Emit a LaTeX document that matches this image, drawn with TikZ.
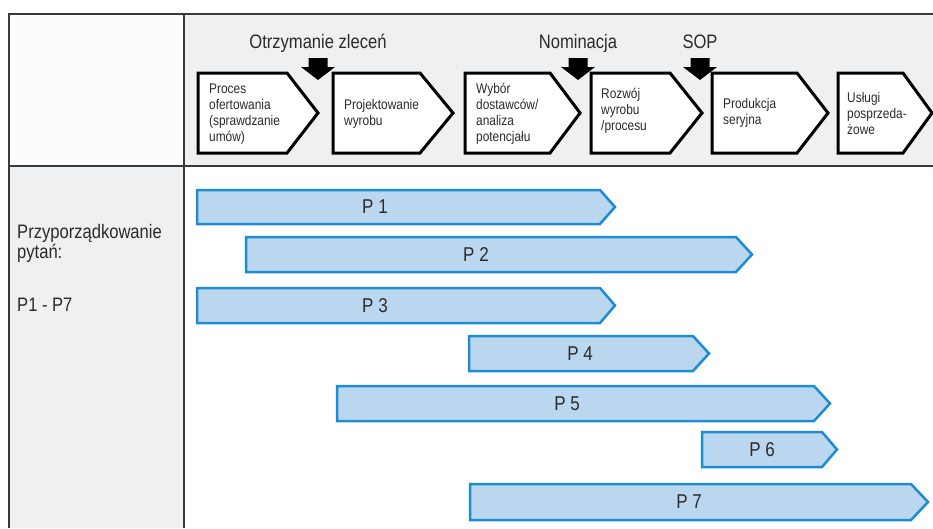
\documentclass[tikz,border=0pt]{standalone}
\usepackage{fontspec}
\setmainfont[FakeStretch=0.85]{Liberation Sans}
\definecolor{linec}{HTML}{3A3A3A}
\definecolor{hgray}{HTML}{EFF0F2}
\definecolor{cellw}{HTML}{FCFCFC}
\definecolor{txt}{HTML}{2B2B2B}
\definecolor{pblue}{HTML}{1E8CD0}
\definecolor{pfill}{HTML}{BBD7EF}
\newcommand\chevbox[3]{\draw[chev] (#1,73) -- (#2,73) -- (#3,113) -- (#2,153) -- (#1,153) -- cycle;}
\newcommand\downarr[1]{\fill[black] ({#1-9.5},58) -- ({#1+9.5},58) -- ({#1+9.5},67) -- ({#1+17},67) -- (#1,80) -- ({#1-17},67) -- ({#1-9.5},67) -- cycle;}
\newcommand\qbar[8]{%
  \draw[pbarst] (#2,#5) -- (#3,#5) -- (#4,{(#5+#6)/2}) -- (#3,#6) -- (#2,#6) -- cycle;
  \node[plabel] (#1) at (#7,{(#5+#6)/2}) {#8};}
\begin{document}
\begin{tikzpicture}[x=1pt,y=-1pt,
  frame/.style={draw=linec, line width=2.5pt},
  chev/.style={draw=black, line width=3pt, fill=white, line join=miter},
  proc/.style={anchor=west, align=left, font=\fontsize{14}{16}\selectfont, text=txt, inner sep=0pt},
  hdr/.style={anchor=base, font=\fontsize{19.5}{22}\selectfont, text=txt, inner sep=0pt},
  lft/.style={anchor=base west, font=\fontsize{19.5}{22}\selectfont, text=txt, inner sep=0pt},
  pbarst/.style={draw=pblue, fill=pfill, line width=2.5pt, line join=miter},
  plabel/.style={font=\fontsize{20}{22}\selectfont, text=txt, inner sep=0pt}]
\useasboundingbox (0,0) rectangle (933,528);
\fill[white] (0,0) rectangle (933,528);
\fill[hgray] (184,14) rectangle (933,166);
\fill[hgray] (9,166) rectangle (184,528);
\fill[cellw] (9,14) rectangle (184,166);
\draw[frame] (9,528) -- (9,14) -- (933,14);
\draw[frame] (184,14) -- (184,528);
\draw[frame] (9,166) -- (933,166);

% milestones
\node[hdr] (otrz) at (318,48) {Otrzymanie zleceń};
\node[hdr] (nomi) at (578,48) {Nominacja};
\node[hdr] (sop) at (700,48) {SOP};
\downarr{318}
\downarr{578}
\downarr{700}

% process chevrons
\chevbox{198}{287}{318}
\chevbox{333}{420}{453}
\chevbox{465}{550}{580}
\chevbox{591}{670}{702}
\chevbox{712}{797}{828}
\chevbox{838}{903}{932}
\node[proc] (c1) at (209,114) {Proces\\ofertowania\\(sprawdzanie\\umów)};
\node[proc] (c2) at (344,114) {Projektowanie\\wyrobu};
\node[proc] (c3) at (476,114) {Wybór\\dostawców/\\analiza\\potencjału};
\node[proc] (c4) at (601,111) {Rozwój\\wyrobu\\/procesu};
\node[proc] (c5) at (723,113) {Produkcja\\seryjna};
\node[proc] (c6) at (847,113) {Usługi\\posprzeda-\\żowe};

% left column
\node[lft] (l1) at (17,238) {Przyporządkowanie};
\node[lft] (l2) at (17,258) {pytań:};
\node[lft] (l3) at (17,311) {P1 - P7};

% bars
\qbar{p1}{197}{600}{615}{190}{224}{375}{P 1}
\qbar{p2}{246}{736}{752}{237}{272}{476}{P 2}
\qbar{p3}{197}{600}{615}{288}{323}{375}{P 3}
\qbar{p4}{469}{693}{709}{336}{371}{580}{P 4}
\qbar{p5}{337}{814}{830}{386}{421}{567}{P 5}
\qbar{p6}{702}{822}{837}{432}{467}{762}{P 6}
\qbar{p7}{470}{911}{928}{484}{520}{689}{P 7}
\end{tikzpicture}
\end{document}
